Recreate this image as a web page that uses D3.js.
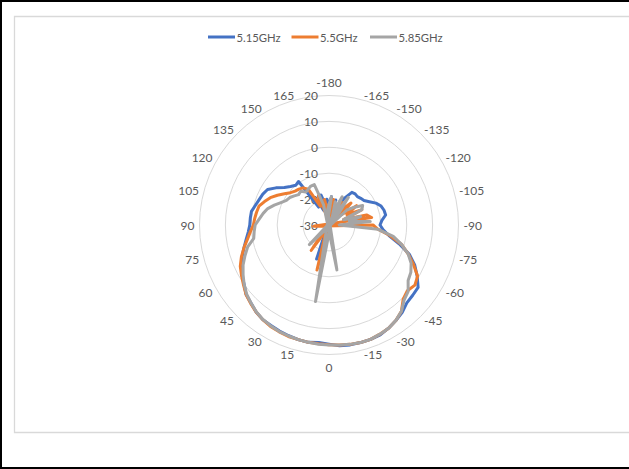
<!DOCTYPE html>
<html>
<head>
<meta charset="utf-8">
<script src="https://cdn.jsdelivr.net/npm/d3@7"></script>
<style>
  html, body { margin: 0; padding: 0; background: #fff; }
  svg { display: block; }
  text { font-family: Lato, "Liberation Sans", sans-serif; fill: #595959; }
</style>
</head>
<body>
<svg id="chart" width="629" height="469"></svg>
<script>
// Measurement angles (degrees), one sample every 5 degrees
const angles = d3.range(-180, 180, 5);

// Gain in dB at each angle, per frequency
const gain515 = [-22, -19, -24, -20, -44, -22, -18, -14.6, -14.3, -14.5, -14, -13.5,
  -12, -10, -8.6, -8, -7.8, -9.5, -10.3, -9, -6.5, -2, 3, 6.5,
  9.3, 12, 12.2, 12.5, 14, 15, 16, 16.8, 17, 17, 17, 16.8,
  16, 15.5, 16, 15.8, 15.5, 15.2, 14.8, 14.6, 13.8, 12.6, 11.8, 10,
  8.8, 7.2, 5.7, 4, 2.5, 1.3, 0.6, 0.5, 0.4, -0.6, -1.3, -1.8,
  -2.6, -5, -7.5, -9, -10, -9.5, -22, -20, -24, -18, -22, -20];

const gain55 = [-22, -24, -20, -48, -22, -25, -20, -42, -22, -18, -24, -17,
  -22, -16, -24, -15, -13.3, -36, -13, -11, -6, -1, 2.5, 6,
  9.5, 10.5, 9.5, 10.5, 13.5, 15, 16, 16.5, 17, 17, 16.8, 16.5,
  16.2, 16, 16, 15.8, 15.8, 15.5, 15.2, 14.6, 13.8, 12.8, 11.8, 10.3,
  9, 7.8, 6, 4, 2, 0.5, -0.8, -1.2, -1.6, -2, -3.5, -5,
  -7, -9, -10.6, -11.5, -11.9, -12.5, -14, -22, -18, -26, -20, -25];

const gain585 = [-22, -19, -60, -20.7, -24, -18, -26, -17, -24, -40.7, -21, -18,
  -15, -16, -24, -17.4, -22, -14, -26, -11, -4.8, -1, 2.5, 5,
  6.5, 7.3, 9.9, 11, 13.5, 15, 16, 16.5, 17, 17, 16.8, 16.5,
  16.3, 16.2, 16, 15.8, 15.6, 15.4, 15, 14.5, 13.7, 12.6, 11.5, 10,
  8.3, 6.6, 4.5, 2.5, -0.5, -1, -1.5, -3, -4.2, -5.5, -7.5, -9.5,
  -11, -11.5, -12.5, -13.4, -13, -14.5, -14, -13.4, -13.4, -22, -47.6, -24];

const seriesNames = ["5.15GHz", "5.5GHz", "5.85GHz"];
const seriesColors = ["#4472C4", "#ED7D31", "#A5A5A5"];
const seriesValues = [gain515, gain55, gain585];

// Angle labels around the rim and gain ticks on the radial axis
const angleTicks = [-180, -165, -150, -135, -120, -105, -90, -75, -60, -45, -30, -15,
  0, 15, 30, 45, 60, 75, 90, 105, 120, 135, 150, 165];
const gainTicks = [-30, -20, -10, 0, 10, 20];

const svg = d3.select("#chart");
const W = 629, H = 469;
const cx = 329, cy = 225, R = 129.5;

// Outer frame and chart area
svg.append("rect").attr("x", 0).attr("y", 0).attr("width", W).attr("height", H).attr("fill", "#fff");
svg.append("path")
  .attr("d", `M${W},1 H1 V${H - 1} H${W}`)
  .attr("fill", "none").attr("stroke", "#000").attr("stroke-width", 2);
svg.append("path")
  .attr("d", `M${W},16.5 H14.5 V432.5 H${W}`)
  .attr("fill", "none").attr("stroke", "#D9D9D9").attr("stroke-width", 1.3);

// Radial scale: no clamping, so values below -30 dB fold through the centre
const r = d3.scaleLinear().domain([-30, 20]).range([0, R]);
const toRad = d => (d + 180) * Math.PI / 180;

const g = svg.append("g").attr("transform", `translate(${cx},${cy})`);

// Gain rings
g.selectAll("circle.ring")
  .data(gainTicks.filter(t => t > -30))
  .join("circle")
  .attr("class", "ring")
  .attr("r", d => r(d))
  .attr("fill", "none")
  .attr("stroke", "#D9D9D9")
  .attr("stroke-width", 1);

// Gain tick labels along the upward axis
g.selectAll("text.gtick")
  .data(gainTicks)
  .join("text")
  .attr("class", "gtick")
  .attr("x", -11)
  .attr("y", d => -r(d))
  .attr("text-anchor", "end")
  .attr("dominant-baseline", "central")
  .attr("font-size", 12)
  .text(d => d);

// Angle labels
const labR = R + 5;
g.selectAll("text.atick")
  .data(angleTicks)
  .join("text")
  .attr("class", "atick")
  .attr("font-size", 12)
  .each(function(d) {
    const a = toRad(d);
    const s = Math.sin(a), c = Math.cos(a);
    const el = d3.select(this);
    if (Math.abs(s) < 1e-6) {
      const rr = labR + 8;
      el.attr("x", 0).attr("y", -rr * c).attr("text-anchor", "middle");
    } else {
      el.attr("x", labR * s).attr("y", -labR * c)
        .attr("text-anchor", s > 0 ? "start" : "end");
    }
    el.attr("dominant-baseline", "central");
  })
  .text(d => d);

// Pattern traces
const line = d3.lineRadial()
  .angle((d, i) => toRad(angles[i]))
  .radius(d => r(d))
  .curve(d3.curveLinearClosed);

seriesValues.forEach((vals, k) => {
  g.append("path")
    .datum(vals)
    .attr("d", line)
    .attr("fill", "none")
    .attr("stroke", seriesColors[k])
    .attr("stroke-width", 3)
    .attr("stroke-linejoin", "round")
    .attr("stroke-linecap", "round");
});

// Legend
const legendX = [208, 291.5, 370];
const lg = svg.append("g");
seriesNames.forEach((name, k) => {
  lg.append("line")
    .attr("x1", legendX[k]).attr("x2", legendX[k] + 27)
    .attr("y1", 37).attr("y2", 37)
    .attr("stroke", seriesColors[k]).attr("stroke-width", 3);
  lg.append("text")
    .attr("x", legendX[k] + 28.5).attr("y", 37)
    .attr("dominant-baseline", "central")
    .attr("font-size", 11.3)
    .text(name);
});
</script>
</body>
</html>
